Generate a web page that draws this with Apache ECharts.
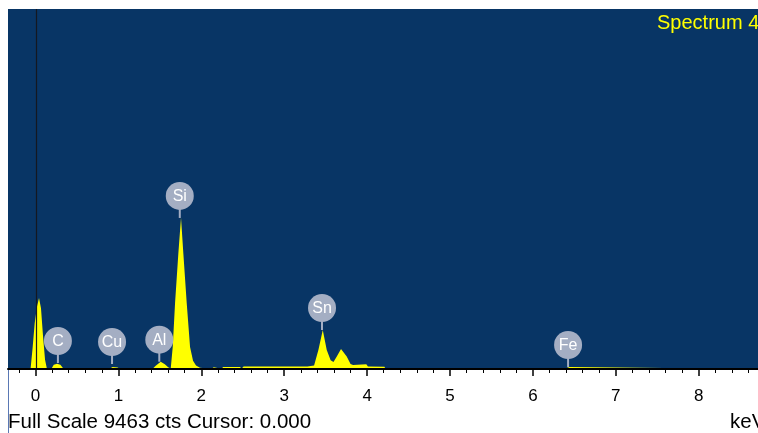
<!DOCTYPE html>
<html>
<head>
<meta charset="utf-8">
<script src="https://cdn.jsdelivr.net/npm/echarts@6/dist/echarts.min.js"></script>
<style>
html,body{margin:0;padding:0;background:#fff;}
#chart{width:758px;height:433px;}
</style>
</head>
<body>
<div id="chart"></div>
<script>
// Spectrum: energy (keV) and counts
const energy = [-0.332,-0.060,-0.035,-0.010,0.018,0.042,0.066,0.090,0.115,0.138,
  0.19,0.22,0.26,0.30,0.34,
  0.89,0.93,0.99,1.02,
  1.41,1.45,1.51,1.56,1.60,1.615,1.631,
  1.655,1.683,1.723,1.755,1.783,1.824,1.864,1.900,1.936,1.984,2.008,
  2.12,2.13,2.15,2.16,2.25,2.26,2.47,2.48,2.50,2.51,3.28,3.30,3.36,
  3.375,3.412,3.465,3.513,3.56,3.594,3.634,3.685,3.754,3.80,3.83,3.88,3.90,3.99,4.01,4.21,4.22,
  4.39,4.40,4.42,4.43,4.44,
  6.38,6.40,6.44,6.46,8.715];
const counts = [0,0,560,1200,1640,1866,1600,880,240,0,
  0,110,140,115,0,
  0,50,40,0,
  0,85,190,125,45,20,15,
  578,1727,3042,3977,3042,1727,578,220,90,35,0,
  0,45,45,0,0,55,55,0,0,65,65,85,95,
  130,500,1025,500,230,184,330,526,330,130,105,115,130,125,65,60,0,
  0,45,0,45,0,
  0,50,50,0,0];

// Element markers
const elementNames = ['C','Cu','Al','Si','Sn','Fe'];
const elementEnergy = [0.27,0.923,1.493,1.74,3.456,6.424];
const elementCounts = [158,131,192,3970,1025,53];

// Axis ticks
const majorTicks = [0,1,2,3,4,5,6,7,8];
const tickLabels = ['0','1','2','3','4','5','6','7','8'];
const minorTicks = [];
for (let i = -1; i <= 43; i++) { const v = Math.round(i*2)/10; if (Math.abs(v - Math.round(v)) > 1e-6) minorTicks.push(v); }

const fullScale = 9463;
const xMin = -0.332, xMax = 8.715;

const FONT = 'Liberation Sans, Arial, sans-serif';
const chart = echarts.init(document.getElementById('chart'), null, {renderer:'canvas'});
const spec = energy.map((e,i)=>[e,counts[i]]);
const marks = elementEnergy.map((e,i)=>[e,elementCounts[i]]);

chart.setOption({
  animation:false,
  backgroundColor:'#ffffff',
  grid:{left:8,right:0,top:9,bottom:64,show:true,backgroundColor:'#083565',borderWidth:0},
  xAxis:[{
    type:'value',min:xMin,max:xMax,position:'bottom',z:5,
    axisLine:{show:true,onZero:false,lineStyle:{color:'#000',width:2}},
    axisTick:{show:true,length:7,lineStyle:{color:'#000',width:1.5},customValues:majorTicks},
    axisLabel:{show:true,customValues:majorTicks,formatter:(v)=>tickLabels[majorTicks.indexOf(Math.round(v))] ?? '',
      color:'#000',fontSize:17,fontFamily:FONT,margin:19},
    splitLine:{show:false}
  },{
    type:'value',min:xMin,max:xMax,position:'bottom',z:5,
    axisLine:{show:false,onZero:false},
    axisTick:{show:true,length:4,lineStyle:{color:'#000',width:1},customValues:minorTicks},
    axisLabel:{show:false},
    splitLine:{show:false}
  }],
  yAxis:{type:'value',min:0,max:fullScale,show:false,splitLine:{show:false}},
  series:[{
    type:'line',xAxisIndex:0,data:spec,symbol:'none',smooth:false,
    lineStyle:{width:0,color:'#ffff00'},
    areaStyle:{color:'#ffff00',opacity:1},
    z:2,
    markLine:{silent:true,symbol:['none','none'],label:{show:false},
      lineStyle:{color:'#141820',width:1.2,type:'solid'},
      data:[{xAxis:0.012}]}
  },{
    type:'custom',xAxisIndex:0,data:marks,z:6,clip:false,
    renderItem:function(params,api){
      const p = api.coord([api.value(0),api.value(1)]);
      const cy = p[1]-22;
      const c = '#a4aec3';
      return {type:'group',children:[
        {type:'line',shape:{x1:p[0],y1:cy+12,x2:p[0],y2:p[1]},style:{stroke:c,lineWidth:2}},
        {type:'circle',shape:{cx:p[0],cy:cy,r:14},style:{fill:c}},
        {type:'text',style:{text:elementNames[params.dataIndex],x:p[0],y:cy+0.5,align:'center',verticalAlign:'middle',
          fill:'#ffffff',font:'16px '+FONT}}
      ]};
    }
  }],
  graphic:[
    {type:'text',style:{text:'Spectrum 4',x:657,y:23.5,verticalAlign:'middle',fill:'#ffff00',font:'20px '+FONT},z:10},
    {type:'text',style:{text:'Full Scale 9463 cts Cursor: 0.000',x:8,y:422,verticalAlign:'middle',fill:'#000',font:'20.5px '+FONT},z:10},
    {type:'text',style:{text:'keV',x:730,y:422,verticalAlign:'middle',fill:'#000',font:'20.5px '+FONT},z:10},
    {type:'line',shape:{x1:8.5,y1:370,x2:8.5,y2:433},style:{stroke:'#5a78b4',lineWidth:1},z:10}
  ]
});
</script>
</body>
</html>
